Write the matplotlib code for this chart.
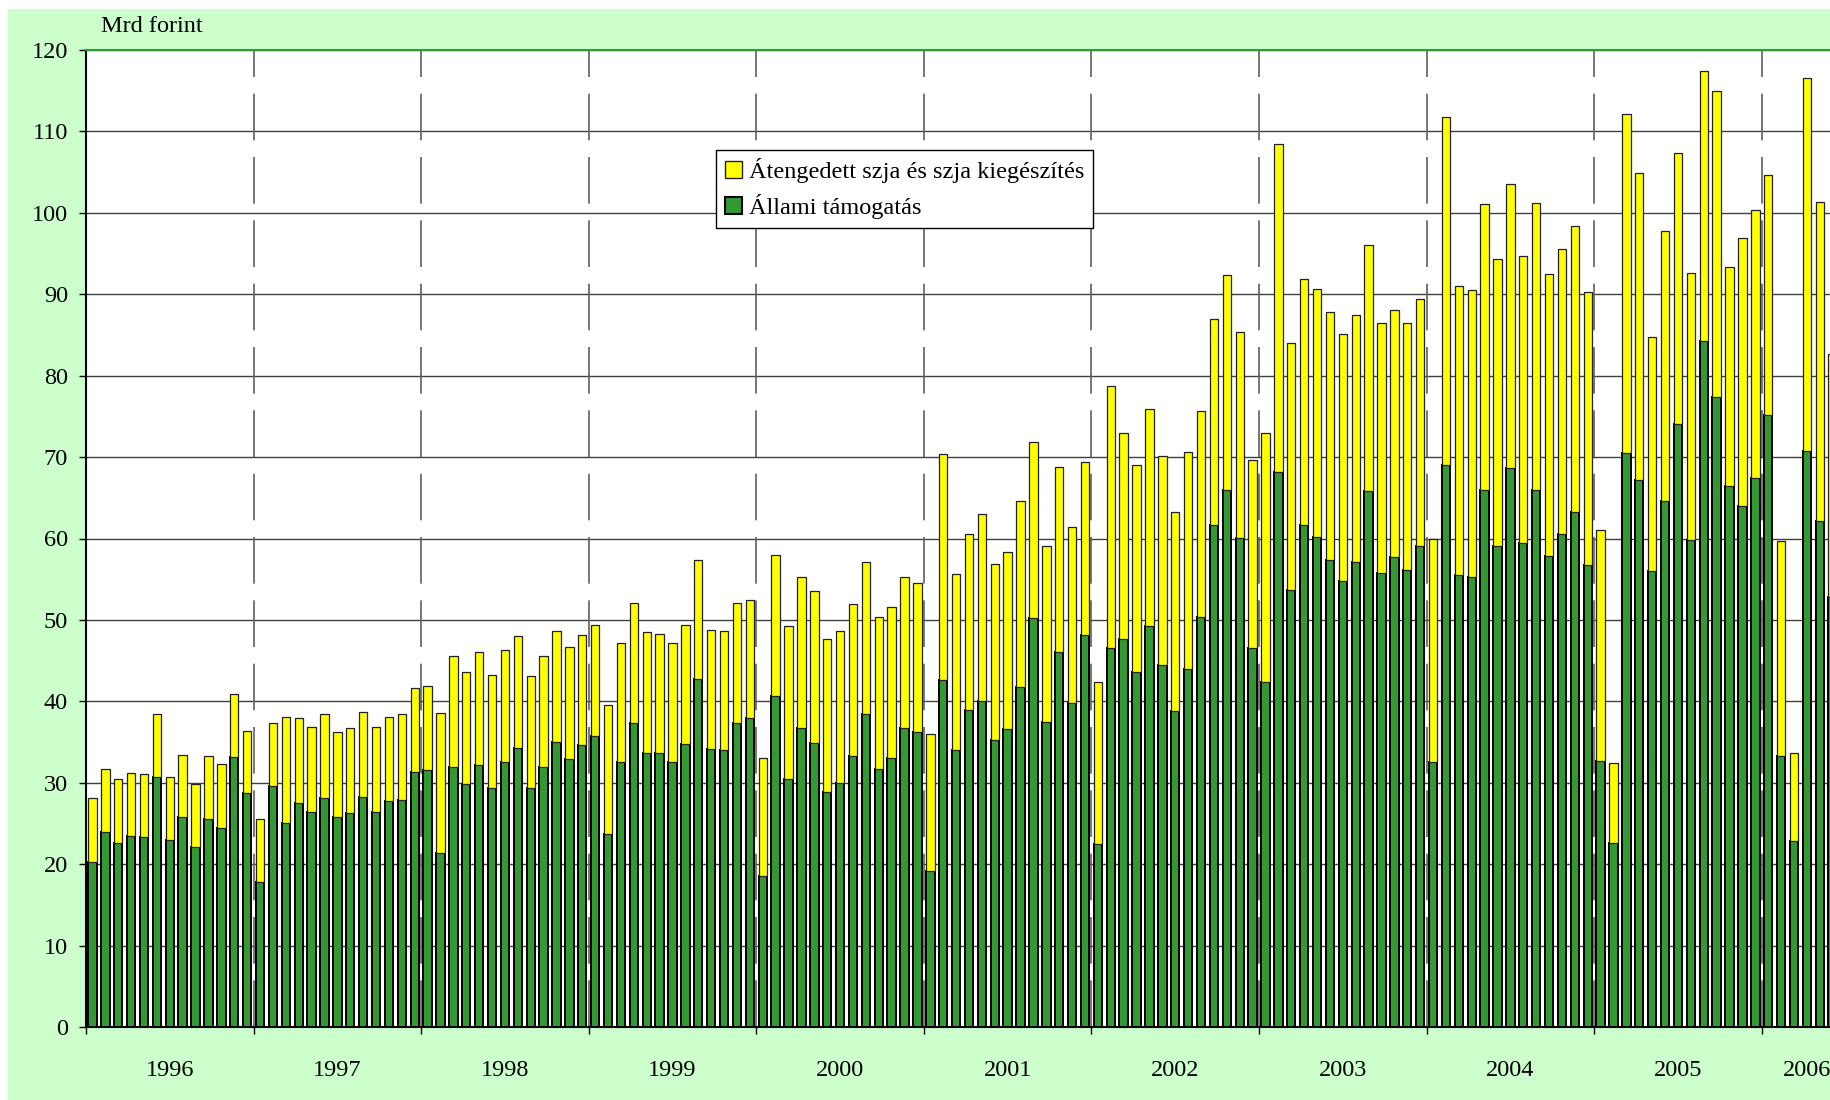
import matplotlib
matplotlib.use("Agg")
import matplotlib.pyplot as plt
from matplotlib.patches import Patch, Rectangle
import numpy as np

plt.rcParams['font.family'] = ['Liberation Serif', 'DejaVu Serif']

# Years on the category axis (13 slots per year in the source chart, 2006 partial)
years = ['1996', '1997', '1998', '1999', '2000', '2001', '2002', '2003', '2004', '2005', '2006']
slots_per_year = 13
slots_2006 = 7

# Total bar height (Állami + Átengedett szja), Mrd forint
osszes = [
    28.1, 31.7, 30.4, 31.2, 31.1, 38.5, 30.7, 33.4, 29.9, 33.3, 32.3, 40.9, 36.4,       # 1996
    25.6, 37.3, 38.1, 37.9, 36.8, 38.5, 36.2, 36.7, 38.7, 36.8, 38.1, 38.4, 41.6,       # 1997
    41.9, 38.6, 45.6, 43.6, 46.0, 43.2, 46.3, 48.0, 43.1, 45.6, 48.7, 46.7, 48.2,       # 1998
    49.4, 39.6, 47.2, 52.1, 48.5, 48.3, 47.2, 49.4, 57.4, 48.8, 48.7, 52.1, 52.4,       # 1999
    33.1, 58.0, 49.2, 55.3, 53.6, 47.6, 48.7, 51.9, 57.1, 50.3, 51.6, 55.3, 54.5,       # 2000
    36.0, 70.4, 55.6, 60.6, 63.0, 56.9, 58.3, 64.6, 71.9, 59.1, 68.8, 61.4, 69.4,       # 2001
    42.4, 78.7, 73.0, 69.0, 75.9, 70.1, 63.3, 70.6, 75.7, 87.0, 92.4, 85.4, 69.7,       # 2002
    73.0, 108.5, 84.0, 91.9, 90.7, 87.8, 85.1, 87.5, 96.1, 86.5, 88.1, 86.5, 89.4,      # 2003
    59.9, 111.8, 91.0, 90.5, 101.1, 94.3, 103.6, 94.7, 101.2, 92.5, 95.5, 98.4, 90.3,   # 2004
    61.0, 32.4, 112.2, 104.9, 84.8, 97.8, 107.4, 92.6, 117.4, 115.0, 93.4, 96.9, 100.4, # 2005
    104.6, 59.7, 33.7, 116.5, 101.3, 82.6,                                             # 2006
]

# Állami támogatás (green part)
allami = [
    20.3, 23.9, 22.6, 23.5, 23.3, 30.7, 23.0, 25.8, 22.1, 25.5, 24.5, 33.2, 28.7,
    17.8, 29.6, 25.0, 27.5, 26.4, 28.1, 25.8, 26.3, 28.3, 26.4, 27.7, 27.9, 31.3,
    31.6, 21.4, 31.9, 29.8, 32.2, 29.4, 32.5, 34.3, 29.3, 31.9, 35.0, 32.9, 34.6,
    35.8, 23.7, 32.5, 37.4, 33.7, 33.6, 32.5, 34.7, 42.7, 34.2, 34.0, 37.4, 37.9,
    18.6, 40.6, 30.5, 36.7, 34.9, 28.9, 30.0, 33.3, 38.5, 31.7, 33.0, 36.7, 36.2,
    19.1, 42.6, 34.0, 38.9, 40.1, 35.2, 36.6, 41.7, 50.2, 37.5, 46.0, 39.8, 48.1,
    22.5, 46.5, 47.6, 43.6, 49.2, 44.5, 38.8, 44.0, 50.4, 61.6, 65.9, 60.1, 46.5,
    42.4, 68.2, 53.7, 61.6, 60.2, 57.3, 54.8, 57.1, 65.8, 55.8, 57.7, 56.1, 59.1,
    32.6, 69.0, 55.5, 55.3, 65.9, 59.1, 68.6, 59.5, 66.0, 57.8, 60.5, 63.3, 56.7,
    32.7, 22.6, 70.5, 67.2, 56.0, 64.6, 74.1, 59.8, 84.2, 77.4, 66.5, 64.0, 67.4,
    75.2, 33.3, 22.9, 70.8, 62.2, 52.8,
]

osszes = np.array(osszes)
allami = np.array(allami)
szja = osszes - allami
x = np.arange(len(osszes))

green = '#339933'
yellow = '#FFFF00'
fsize = 17.5

fig = plt.figure(figsize=(18.3, 11), dpi=100)
fig.patch.set_facecolor('white')
fig.patches.append(Rectangle((8 / 1830, 0), 1, 1 - 9 / 1100, transform=fig.transFigure,
                             facecolor='#CCFFCC', edgecolor='none', zorder=-10))

# axes run a bit past the right edge, like the cropped original
n_slots = slots_per_year * 10 + slots_2006
ax = fig.add_axes([86 / 1830, 1 - 1027 / 1100, (1852 - 86) / 1830, (1027 - 50) / 1100])
ax.set_facecolor('white')

ax.bar(x, allami, width=0.65, color=green, edgecolor='black', linewidth=1.4, zorder=3)
ax.bar(x, szja, width=0.65, bottom=allami, color=yellow, edgecolor='#222222', linewidth=0.9, zorder=3)

ax.set_xlim(-0.5, n_slots - 0.5)
ax.set_ylim(0, 120)

# horizontal grid
ax.set_yticks(range(0, 121, 10))
ax.yaxis.grid(True, color='#404040', linewidth=1)
ax.set_axisbelow(True)

# dashed year separators
bounds = [slots_per_year * k - 0.5 for k in range(11)]
for b in bounds[1:]:
    ax.axvline(b, color='#606060', linewidth=1.2, linestyle=(0, (28, 10)), zorder=1)

ax.set_xticks(bounds)
ax.set_xticklabels([])
centers = [slots_per_year * k + 6 for k in range(10)] + [slots_per_year * 10 + (slots_2006 - 1) / 2]
ax.set_xticks(centers, minor=True)
ax.set_xticklabels(years, minor=True)
ax.tick_params(axis='x', which='major', direction='out', length=5, width=1)
ax.tick_params(axis='x', which='minor', length=0, pad=24, labelsize=fsize)
ax.tick_params(axis='y', direction='out', length=5, width=1, pad=8, labelsize=fsize)

for side in ['left', 'bottom']:
    ax.spines[side].set_color('black')
    ax.spines[side].set_linewidth(1.5)
ax.spines['right'].set_visible(False)
ax.spines['top'].set_color(green)
ax.spines['top'].set_linewidth(1.5)

fig.text(101 / 1830, 1 - 27 / 1100, 'Mrd forint', fontsize=fsize, va='center', ha='left')

handles = [
    Patch(facecolor=yellow, edgecolor='#222222', linewidth=1, label='Átengedett szja és szja kiegészítés'),
    Patch(facecolor=green, edgecolor='black', linewidth=1.5, label='Állami támogatás'),
]
leg = ax.legend(handles=handles, loc='upper left', bbox_to_anchor=(0.357, 0.898),
                fontsize=fsize, frameon=True, fancybox=False, framealpha=1, edgecolor='black',
                borderpad=0.35, handlelength=0.7, handleheight=0.7, handletextpad=0.3,
                labelspacing=0.45, borderaxespad=0)
leg.get_frame().set_linewidth(1)

fig.savefig('out.png', dpi=100)
